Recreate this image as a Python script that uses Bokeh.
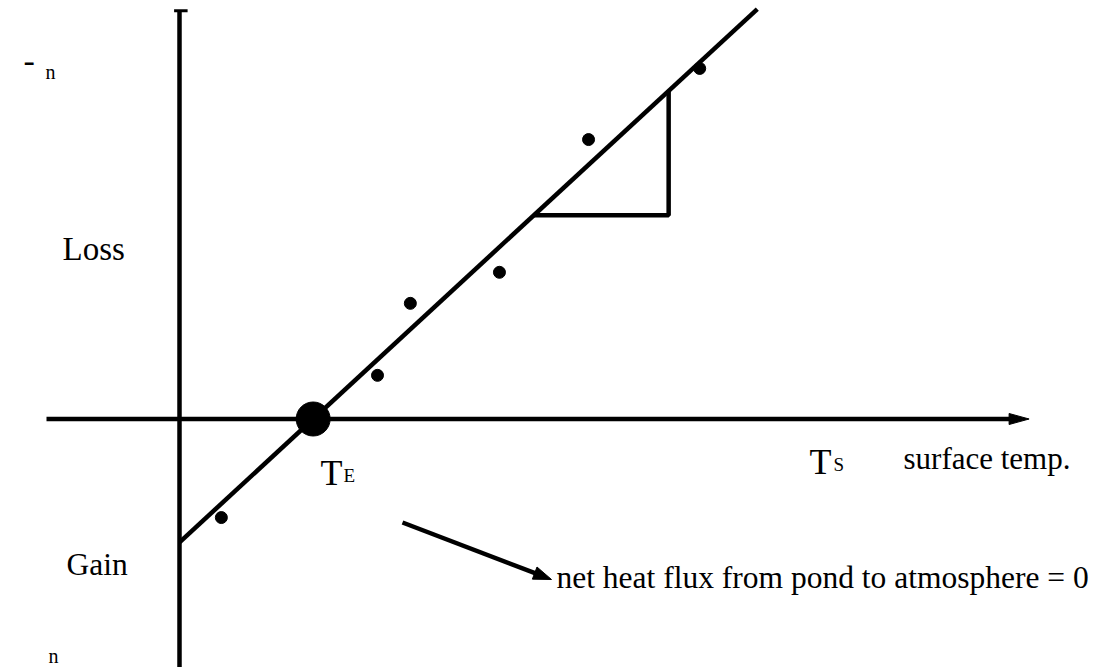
from bokeh.plotting import figure
from bokeh.models import Range1d, ColumnDataSource
from bokeh.core.properties import value
from bokeh.embed import file_html
from bokeh.resources import INLINE

# Schematic of pond surface heat flux vs. surface temperature.
# Data units: temperature (x) and net flux (y), origin at the axis crossing.
sample_temp = [0.93, 4.40, 5.13, 7.11, 9.09, 11.56]
sample_flux = [-2.19, 0.97, 2.57, 3.26, 6.21, 7.79]
equilibrium_temp = 2.97
flux_slope = 0.923
fit_temp_end = 12.84
step_flux = 4.53
step_temp_end = 10.87

W, H = 1097, 667
PX = 45.0  # pixels per data unit on both axes
ox, oy = 179.0, 418.5  # screen position of the origin

p = figure(width=W, height=H, output_backend="svg", toolbar_location=None,
           x_range=Range1d(-ox / PX, (W - ox) / PX),
           y_range=Range1d(-(H - oy) / PX, oy / PX),
           min_border=0, outline_line_color=None)
p.axis.visible = False
p.grid.visible = False
p.background_fill_color = "white"
p.border_fill_color = "white"

INK = "black"
LW = 4.5


def head(tip_x, tip_y, dx, dy, length_px, width_px):
    import math
    n = math.hypot(dx, dy)
    ux, uy = dx / n, dy / n
    L, w = length_px / PX, width_px / PX / 2
    bx, by = tip_x - ux * L, tip_y - uy * L
    return ([tip_x, bx - uy * w, bx + uy * w], [tip_y, by + ux * w, by - ux * w])


# axes
x_axis_end = 18.45
p.line([-133 / PX, x_axis_end], [0, 0], line_color=INK, line_width=LW)
hx, hy = head(18.88, 0, 1, 0, 20, 11)
p.patch(hx, hy, fill_color=INK, line_color=INK)
p.line([0, 0], [-6.0, 9.07], line_color=INK, line_width=LW)
p.line([-0.12, 0.18], [9.07, 9.07], line_color=INK, line_width=3)

# fitted line through the equilibrium temperature
fit_x = [0, fit_temp_end]
fit_y = [flux_slope * (t - equilibrium_temp) for t in fit_x]
p.line(fit_x, fit_y, line_color=INK, line_width=LW)

# slope triangle
step_start = equilibrium_temp + step_flux / flux_slope
step_top = flux_slope * (step_temp_end - equilibrium_temp)
p.line([step_start, step_temp_end, step_temp_end],
       [step_flux, step_flux, step_top], line_color=INK, line_width=LW)

# observations
p.scatter(sample_temp, sample_flux, size=12, color=INK)
p.scatter([equilibrium_temp], [0], size=34, color=INK)

# pointer to the annotation
ax0, ay0 = (402 - ox) / PX, (oy - 522) / PX
ax1, ay1 = (551 - ox) / PX, (oy - 579) / PX
hx, hy = head(ax1, ay1, ax1 - ax0, ay1 - ay0, 18, 13)
p.line([ax0, ax1 - (ax1 - ax0) * 0.08], [ay0, ay1 - (ay1 - ay0) * 0.08],
       line_color=INK, line_width=LW)
p.patch(hx, hy, fill_color=INK, line_color=INK)

FONT = "Liberation Serif"


def label(px, py, text, size):
    src = ColumnDataSource(dict(x=[(px - ox) / PX], y=[(oy - py) / PX], t=[text]))
    p.text(x="x", y="y", text="t", source=src,
           text_font=value(FONT), text_font_size=value(f"{size}px"),
           text_color=INK, text_baseline="alphabetic", text_align="left")


label(23, 60, "-", 34)
label(45, 71, "n", 20)
label(62, 248, "Loss", 33)
label(66, 564, "Gain", 31.5)
label(48, 655, "n", 20)
label(320, 472, "T", 36)
label(343, 475, "E", 19)
label(809, 461, "T", 36)
label(833, 464, "S", 19)
label(903, 458, "surface temp.", 31)
label(556, 577, "net heat flux from pond to atmosphere = 0", 31.5)

open("out.html", "w").write(file_html(p, INLINE))
